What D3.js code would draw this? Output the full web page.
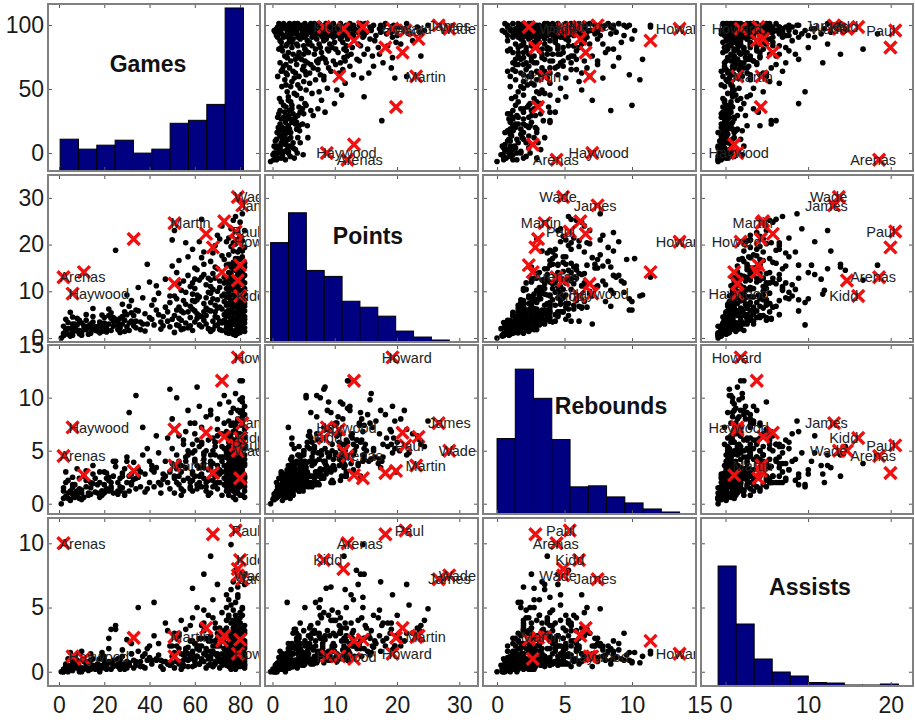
<!DOCTYPE html>
<html>
<head>
<meta charset="utf-8">
<script src="https://cdn.jsdelivr.net/npm/d3@7"></script>
<style>
  body { margin: 0; background: #fff; }
  text { font-family: "Liberation Sans", Arial, sans-serif; }
</style>
</head>
<body>
<div id="chart"></div>
<script>
var variables = ["Games", "Points", "Rebounds", "Assists"];

// tick labels on the outer axes
var xTicks = [[0, 20, 40, 60, 80], [0, 10, 20, 30], [0, 5, 10, 15], [0, 10, 20]];
var yTicks = [[0, 50, 100], [0, 10, 20, 30], [0, 5, 10, 15], [0, 5, 10]];

// histogram counts, 10 bins each, and the value range they cover
var gamesCounts = [32, 22, 26, 31, 18, 22, 48, 51, 67, 164];
var pointsCounts = [100, 130, 72, 66, 41, 35, 26, 11, 5, 2];
var reboundsCounts = [75, 144, 115, 74, 27, 28, 17, 11, 5, 2];
var assistsCounts = [240, 124, 54, 28, 20, 7, 6, 2, 2, 4];
var histRange = [[0.5, 81.5], [0, 30.2], [0, 13.8], [0, 11.2]];
var histMax = [168, 168, 168, 336];

// players: games, points, rebounds, assists
var players = [
  [2,0.5,0.5,0.0],[3,1.3,0.7,0.3],[4,0.8,1.0,0.0],[5,2.0,0.3,0.5],[6,1.2,1.5,0.2],[7,3.0,1.0,0.4],
  [8,1.5,0.8,0.7],[1,0.0,0.0,0.0],[2,2.5,1.5,0.0],[3,4.0,2.0,0.5],[4,3.3,0.5,1.0],[5,0.4,0.4,0.2],
  [6,4.5,2.5,0.3],[7,1.8,1.8,1.2],[8,2.8,1.2,0.3],[9,0.9,0.5,0.0],[3,1.8,3.0,0.6],[5,5.5,1.2,1.5],
  [8,4.2,3.3,0.9],[2,1.0,1.2,0.2],[4,2.0,2.2,0.4],[6,0.6,0.9,0.1],[7,2.4,0.6,0.6],[9,1.6,1.4,0.3],
  [6,3.0,1.8,0.8],[9,3.8,2.4,0.4],
  [10,1.2,1.0,0.3],[11,2.6,0.6,0.8],[12,3.8,2.2,0.4],[13,0.8,0.8,0.1],[14,2.0,1.5,1.4],[15,4.6,1.9,0.5],
  [16,1.6,2.4,0.2],[10,3.2,1.3,1.6],[12,5.0,3.1,0.6],[14,3.0,0.9,0.9],[16,2.4,1.1,0.3],[11,1.9,2.6,0.2],
  [15,6.3,2.8,1.0],[10,0.6,0.4,0.0],[12,1.8,1.6,0.8],[13,2.6,1.0,0.3],[14,1.0,2.0,0.2],[15,3.4,3.6,0.4],
  [17,1.5,1.0,0.3],[18,3.4,2.0,0.5],[19,2.2,0.8,1.1],[20,4.4,3.0,0.6],[21,1.3,1.4,0.2],[22,3.0,2.2,1.8],
  [23,5.4,1.6,0.7],[24,2.5,1.0,0.4],[25,4.0,3.5,3.3],[18,1.1,0.6,0.0],[20,2.6,1.8,0.9],[22,6.2,2.5,0.8],
  [24,3.6,4.0,0.5],[19,4.9,1.2,1.5],[21,2.9,2.9,0.4],[25,18.8,4.0,3.6],[23,4.2,2.0,3.3],[17,2.4,1.8,0.6],
  [19,1.4,1.2,0.3],[20,3.2,1.0,1.2],[21,2.0,2.4,0.5],[23,1.6,1.4,0.2],[24,4.4,2.6,0.9],[18,2.8,3.0,1.0],
  [22,4.8,1.2,2.6],
  [26,1.8,1.2,0.4],[27,4.2,2.4,0.7],[28,3.0,1.5,1.2],[29,5.6,3.3,0.5],[30,2.4,2.0,0.3],[31,6.8,8.6,0.6],
  [32,3.6,1.8,2.2],[33,4.8,3.9,0.9],[26,2.8,0.9,1.0],[27,1.2,1.6,0.2],[28,7.2,2.6,1.7],[29,3.8,1.0,0.6],
  [30,5.0,4.4,0.8],[31,1.6,1.2,0.5],[32,8.0,2.8,1.4],[33,2.6,2.3,0.3],[30,9.2,4.0,2.5],[34,6.0,10.2,0.8],
  [28,4.6,2.9,0.4],[26,3.4,2.0,0.6],[27,2.2,1.2,1.0],[29,1.4,0.8,0.2],[31,3.2,2.6,0.7],[32,5.4,2.0,1.4],
  [34,2.2,1.4,0.5],[35,5.8,2.5,5.0],[36,3.4,3.0,0.8],[37,8.6,4.6,1.2],[38,1.5,1.1,0.3],[39,15.8,5.2,1.8],
  [40,4.4,2.0,2.0],[41,7.0,3.6,0.9],[35,10.8,3.3,1.6],[37,3.0,7.2,0.4],[40,12.0,4.0,1.1],[34,3.6,2.4,0.7],
  [36,1.8,1.6,0.4],[38,5.2,2.8,1.4],[39,3.0,1.4,0.9],[41,4.0,3.2,0.6],
  [42,2.8,1.6,5.4],[43,6.0,3.4,1.0],[44,9.6,4.8,1.3],[45,1.9,1.0,0.4],[46,4.6,2.3,0.8],[47,12.6,2.6,3.8],
  [48,3.6,6.2,0.6],[49,7.6,3.0,2.0],[50,15.4,8.0,1.2],[43,11.2,6.4,0.9],[46,2.6,2.8,0.2],[48,5.6,2.0,3.2],
  [49,9.0,10.8,0.7],[44,5.0,2.0,2.2],[45,3.4,1.8,0.9],[47,6.6,4.0,0.8],[49,2.4,1.4,0.5],[42,8.2,3.0,2.8],
  [51,1.2,1.0,0.3],[51,4.8,2.6,1.2],[52,8.4,3.3,2.6],[52,14.0,4.6,2.0],[53,2.6,1.8,0.6],[53,6.6,6.4,0.8],
  [54,10.2,3.0,4.0],[54,3.8,1.4,1.4],[55,12.2,5.6,1.3],[55,5.4,2.2,0.5],[56,20.4,6.8,3.3],[56,7.2,4.0,1.8],
  [59,9.4,2.8,6.5],[57,2.2,2.4,0.4],[58,11.0,7.6,1.1],[58,4.4,1.6,2.4],[50,21.0,5.2,2.0],[51,23.0,7.0,3.0],
  [52,6.0,10.0,0.9],[53,16.6,4.0,2.8],[54,1.8,0.8,0.2],[55,8.0,6.0,0.9],[56,3.2,3.4,1.0],[57,13.4,8.8,1.4],
  [58,6.8,2.0,3.6],[50,4.0,3.8,0.7],[51,9.0,2.4,1.5],[53,11.6,3.6,3.0],[57,17.4,5.0,1.9],[52,2.8,2.0,0.8],
  [54,5.8,3.6,0.6],[56,9.8,4.4,1.6],[58,2.6,1.4,1.0],[57,5.6,4.6,0.9],[55,2.0,1.2,0.4],[53,4.2,2.6,1.8],
  [59,1.6,1.2,0.4],[59,6.2,3.0,1.6],[60,10.6,4.2,2.2],[60,3.4,2.6,0.5],[61,14.6,6.0,1.8],[61,8.2,1.8,5.0],
  [62,4.8,5.4,0.6],[62,12.4,3.4,2.6],[63,2.4,1.6,1.0],[63,17.2,7.2,2.0],[64,7.4,2.4,3.2],[64,5.6,4.8,0.8],
  [65,11.4,8.2,1.3],[65,3.0,2.0,0.3],[66,9.8,3.2,4.4],[64,15.8,4.6,7.6],[59,19.0,5.6,2.4],[60,7.8,6.6,1.0],
  [61,4.2,1.4,2.0],[62,20.6,9.2,1.7],[61,9.2,11.0,1.2],[64,13.6,3.8,3.8],[65,6.4,1.6,1.8],[66,2.0,0.8,0.5],
  [59,11.8,2.2,4.2],[60,15.0,7.6,2.2],[61,5.2,3.6,1.2],[63,13.0,5.8,0.9],[64,18.4,4.2,4.8],[65,8.6,5.0,2.6],
  [63,25.4,5.6,3.6],[60,5.8,4.0,0.8],[62,8.8,2.6,2.0],[64,3.8,3.4,1.4],[66,6.0,2.2,1.0],[66,12.8,6.0,2.4],
  [63,4.6,2.8,2.6],[60,12.6,5.0,1.0],[59,8.0,4.8,1.4],[62,2.8,2.0,0.6],[65,4.8,1.2,1.6],
  [67,1.4,1.0,0.6],[67,5.8,3.4,1.2],[67,11.0,4.6,2.8],[67,16.4,8.4,1.6],[68,3.6,2.2,0.4],[68,8.4,2.8,5.6],
  [68,13.8,6.2,2.0],[69,2.6,1.8,1.4],[69,7.0,5.8,0.8],[69,19.8,5.4,3.8],[70,4.4,1.4,2.6],[70,10.0,7.0,1.2],
  [70,14.8,3.6,6.8],[70,22.0,8.0,2.0],[71,1.8,2.8,0.3],[71,6.6,2.0,3.4],[71,12.2,9.4,1.0],[72,3.2,3.0,0.9],
  [72,9.0,4.0,4.6],[72,17.6,4.4,2.4],[72,24.0,6.6,3.0],[73,5.0,1.8,1.8],[73,11.8,5.2,3.2],[73,7.8,10.2,0.7],
  [74,2.2,1.2,1.0],[74,15.6,6.8,5.0],[74,20.6,4.8,6.0],[74,8.8,3.2,2.2],[67,9.6,8.8,1.0],[68,18.2,3.8,4.2],
  [69,4.6,4.6,2.0],[69,12.8,2.6,3.4],[70,6.4,6.4,1.4],[67,12.4,3.8,9.0],[71,21.2,3.0,2.8],[81,13.2,11.6,1.6],
  [73,3.8,2.4,3.0],[73,16.8,7.6,2.6],[74,10.6,2.0,4.0],[74,5.6,5.0,0.6],[67,7.6,4.0,2.4],[68,10.4,5.0,1.6],
  [69,5.6,3.0,0.6],[70,8.2,2.6,3.0],[71,3.6,4.4,0.8],[72,6.2,5.4,1.4],[73,9.4,3.6,1.2],[71,10.8,3.2,2.0],
  [68,1.8,1.6,0.4],[70,2.8,2.0,1.2],[72,1.6,0.8,0.5],[73,13.0,4.4,1.8],[69,15.2,5.8,2.4],
  [75,1.0,0.8,0.4],[75,3.4,2.0,1.0],[75,6.0,3.8,0.8],[75,8.6,2.4,4.2],[75,11.2,6.4,1.4],[75,14.0,3.2,5.6],
  [75,17.8,7.8,2.2],[75,4.8,4.6,2.8],[75,9.8,9.6,0.9],[75,21.4,5.8,4.4],[75,2.2,1.2,0.9],[75,5.2,2.8,1.6],
  [75,7.4,5.2,0.7],[75,15.8,4.2,2.6],[75,10.4,3.4,1.8],
  [76,1.8,1.4,0.2],[76,4.2,2.8,1.8],[76,7.0,1.6,3.0],[76,9.2,5.2,1.2],[76,12.6,3.6,6.4],[76,15.2,8.6,1.8],
  [76,19.6,6.2,2.6],[76,2.8,3.2,0.6],[76,23.4,4.8,5.2],[76,10.8,7.4,2.0],[76,3.4,1.8,0.6],[76,5.6,5.0,1.4],
  [76,8.0,2.0,3.8],[76,11.6,5.8,1.0],[76,13.8,6.6,3.0],
  [77,0.8,0.6,0.5],[77,3.0,1.2,2.2],[77,5.4,4.0,0.7],[77,8.0,3.0,1.6],[77,10.4,2.2,4.8],[77,13.0,9.0,1.1],
  [77,16.2,5.0,3.4],[77,6.6,6.8,1.0],[77,18.6,3.4,7.0],[77,12.0,4.4,2.4],[77,1.4,2.4,0.3],[77,4.4,2.2,3.0],
  [77,7.4,5.4,1.2],[77,9.2,3.8,2.8],[77,11.2,7.6,0.8],[77,20.4,5.6,3.8],
  [78,1.6,1.0,0.3],[78,4.0,3.6,0.9],[78,6.8,2.6,2.6],[78,9.0,7.2,1.4],[78,11.6,4.2,3.6],[78,14.6,6.0,2.2],
  [78,17.0,10.4,1.5],[78,20.2,7.0,3.0],[78,7.6,1.8,5.4],[78,26.0,5.4,4.0],[78,0.6,0.4,0.2],[78,3.4,2.8,1.8],
  [78,5.4,4.6,0.5],[78,8.4,3.2,4.4],[78,10.4,5.6,2.0],[78,12.8,3.0,2.8],[78,15.8,7.4,2.6],
  [79,2.0,2.2,0.8],[79,4.6,1.4,1.4],[79,7.2,4.8,0.6],[79,9.6,3.4,3.2],[79,12.2,8.0,1.7],[79,15.6,4.0,5.8],
  [79,18.4,6.6,2.8],[79,22.6,8.8,2.4],[79,3.6,5.6,0.4],[79,10.2,2.0,6.6],[79,1.0,1.0,0.6],[79,3.0,3.6,1.0],
  [79,6.4,1.8,2.8],[79,8.4,6.0,1.6],[79,11.0,4.8,4.0],[79,14.2,5.0,1.2],[79,17.0,4.2,3.2],
  [80,1.2,1.6,0.7],[80,3.8,0.8,2.0],[80,6.2,5.8,1.0],[80,8.8,2.4,1.8],[80,11.4,6.6,4.6],[80,13.8,3.0,2.6],
  [80,16.8,9.8,1.3],[80,19.0,4.4,3.8],[80,24.8,6.4,3.4],[80,5.0,3.4,3.8],[80,2.6,2.4,0.4],[80,5.6,2.0,1.4],
  [80,7.4,3.8,3.0],[80,10.2,8.6,0.9],[80,12.4,4.8,2.0],[80,15.4,6.0,4.2],[80,21.8,5.0,2.6],
  [81,2.4,1.8,0.5],[81,5.2,2.6,1.2],[81,7.8,8.2,0.9],[81,10.0,4.6,2.8],[81,12.8,2.8,5.0],[81,15.0,7.4,2.0],
  [81,17.4,5.2,4.4],[81,20.8,6.2,1.8],[81,26.6,7.8,4.9],[81,8.4,10.0,1.5],[81,1.6,0.8,1.6],[81,4.2,3.0,0.8],
  [81,6.6,5.2,2.2],[81,9.2,3.2,1.4],[81,14.0,5.6,3.2],[81,18.6,8.8,1.6],
  [82,1.4,1.2,1.1],[82,3.2,2.4,0.3],[82,5.8,1.6,2.4],[82,8.2,4.2,1.4],[82,10.6,3.6,3.0],[82,13.4,9.2,2.2],
  [82,16.0,5.6,3.6],[82,19.4,8.4,2.0],[82,23.0,4.6,6.8],[82,6.8,6.2,0.8],[82,4.6,3.8,1.8],[82,7.4,2.0,3.2],
  [82,11.8,6.6,1.2],[82,4.0,5.2,0.6],
  [74,3.0,2.4,1.6],[76,6.0,2.4,2.2],[78,2.8,1.6,1.2],[80,4.4,4.0,0.9],[82,9.4,7.0,1.0],[75,12.8,5.4,2.8],
  [77,14.8,3.8,4.0],[79,5.8,2.8,2.0],[81,3.4,4.2,0.6],[82,2.2,0.6,0.5],[74,1.2,1.6,0.5],[74,4.6,3.0,0.8],
  [74,7.0,4.4,1.9],[74,12.0,2.6,3.4],
  [77,25.2,6.0,3.2],[79,21.0,7.8,2.0],[81,11.8,9.6,3.0],[76,15.6,4.6,9.9],[80,13.0,11.6,1.4],[78,14.5,5.4,7.9],
  [79,13.6,6.4,6.0],[82,15.2,2.6,7.6]
];

// highlighted players (red crosses); empty name = no label
var starNames = ["Arenas", "Haywood", "Martin", "Paul", "Kidd", "Wade", "James", "Howard",
  "", "", "", "", "", "", "", "", ""];
var starStats = [
  [2, 13.0, 4.5, 10.0], [6, 9.5, 7.2, 1.2], [51, 24.6, 3.6, 2.7], [78, 22.8, 5.5, 11.0],
  [80, 9.0, 6.2, 8.7], [79, 30.2, 5.0, 7.5], [81, 28.4, 7.6, 7.2], [79, 20.6, 13.8, 1.4],
  [68, 19.4, 2.9, 10.7], [11, 14.1, 2.7, 1.0], [33, 21.2, 3.1, 2.65], [51, 11.6, 7.0, 1.2],
  [65, 22.3, 6.7, 3.4], [73, 25.0, 6.3, 2.8], [72, 14.1, 11.6, 2.4], [80, 15.6, 2.4, 2.5],
  [79, 12.3, 5.0, 8.0]
];

// panel layout
var width = 915, height = 720;
var colX = [[48, 260], [265, 478], [483, 696], [701, 913]];
var rowY = [[4, 171], [175, 342], [345, 514], [518, 686]];
var xDomain = [[-4.86, 88.8], [-1.2, 33.0], [-1.04, 14.74], [-2.97, 22.7]];
var yDomain = [[-14.1, 116.4], [-0.86, 34.9], [-0.97, 14.97], [-1.11, 11.97]];
// value -> axis units of each column / row
var xCal = [[1, 0], [0.95, -0.3], [0.98, 0], [1.95, -0.9]];
var yCal = [[1.33, -8], [1, 0], [1, 0], [1, 0]];
var titlePos = [[148, 72], [368, 244], [611, 414], [810, 595]];
var counts = [gamesCounts, pointsCounts, reboundsCounts, assistsCounts];

var svg = d3.select("#chart")
  .append("svg")
    .attr("width", width)
    .attr("height", height)
    .style("background", "#fff");

var defs = svg.append("defs");

function xScale(j) {
  return d3.scaleLinear().domain(xDomain[j]).range(colX[j]);
}
function yScale(i) {
  return d3.scaleLinear().domain(yDomain[i]).range([rowY[i][1], rowY[i][0]]);
}
function inside(ticks, dom) {
  return ticks.filter(function(t) { return t >= dom[0] && t <= dom[1]; });
}

for (var i = 0; i < 4; i++) {
  for (var j = 0; j < 4; j++) {
    var x = xScale(j), y = yScale(i);
    var cx = xCal[j], cy = yCal[i];
    var px = function(v) { return x(cx[0] * v + cx[1]); };
    var py = function(v) { return y(cy[0] * v + cy[1]); };
    var x0 = colX[j][0], x1 = colX[j][1], y0 = rowY[i][0], y1 = rowY[i][1];

    var clipId = "clip" + i + j;
    defs.append("clipPath").attr("id", clipId)
      .append("rect")
        .attr("x", x0).attr("y", y0)
        .attr("width", x1 - x0).attr("height", y1 - y0);

    var panel = svg.append("g");
    var body = panel.append("g").attr("clip-path", "url(#" + clipId + ")");

    if (i == j) {
      // histogram on the diagonal
      var r = histRange[j];
      var bw = (r[1] - r[0]) / counts[j].length;
      var yc = d3.scaleLinear().domain([0, histMax[j]]).range([y1, y0]);
      body.selectAll("rect.bar")
        .data(counts[j])
        .enter()
        .append("rect")
          .attr("x", function(d, k) { return px(r[0] + k * bw); })
          .attr("width", function(d, k) { return px(r[0] + (k + 1) * bw) - px(r[0] + k * bw); })
          .attr("y", function(d) { return yc(d); })
          .attr("height", function(d) { return y1 - yc(d); })
          .style("fill", "#000080")
          .style("stroke", "#000")
          .style("stroke-width", 1);
      panel.append("text")
        .attr("x", titlePos[j][0])
        .attr("y", titlePos[j][1])
        .attr("text-anchor", "middle")
        .style("font-size", "23px")
        .style("font-weight", "bold")
        .style("fill", "#111")
        .text(variables[j]);
    } else {
      // scatter
      body.append("g")
        .selectAll("circle")
        .data(players)
        .enter()
        .append("circle")
          .attr("cx", function(d) { return px(d[j]); })
          .attr("cy", function(d) { return py(d[i]); })
          .attr("r", 2.8)
          .style("fill", "#000");

      body.append("g")
        .selectAll("path")
        .data(starStats)
        .enter()
        .append("path")
          .attr("transform", function(d) { return "translate(" + px(d[j]) + "," + py(d[i]) + ")"; })
          .attr("d", "M-6,-6L6,6M-6,6L6,-6")
          .style("stroke", "#f01010")
          .style("stroke-width", 3.4)
          .style("fill", "none");

      body.append("g")
        .selectAll("text")
        .data(starStats.filter(function(d, k) { return starNames[k] != ""; }))
        .enter()
        .append("text")
          .attr("x", function(d) { return px(d[j] - 1.8); })
          .attr("y", function(d) { return py(d[i]); })
          .attr("dy", "0.36em")
          .style("font-size", "14.5px")
          .style("fill", "#222")
          .text(function(d, k) { return starNames[k]; });
    }

    // inward tick marks on all four sides
    var xt = inside(xTicks[j], xDomain[j]), yt = inside(yTicks[i], yDomain[i]);
    var tickStyle = function(g) {
      g.select(".domain").remove();
      g.selectAll("line").style("stroke", "#555");
    };
    panel.append("g").attr("transform", "translate(0," + y1 + ")")
      .call(d3.axisBottom(x).tickValues(xt).tickSize(-4).tickFormat("")).call(tickStyle);
    panel.append("g").attr("transform", "translate(0," + y0 + ")")
      .call(d3.axisTop(x).tickValues(xt).tickSize(-4).tickFormat("")).call(tickStyle);
    panel.append("g").attr("transform", "translate(" + x0 + ",0)")
      .call(d3.axisLeft(y).tickValues(yt).tickSize(-4).tickFormat("")).call(tickStyle);
    panel.append("g").attr("transform", "translate(" + x1 + ",0)")
      .call(d3.axisRight(y).tickValues(yt).tickSize(-4).tickFormat("")).call(tickStyle);

    panel.append("rect")
      .attr("x", x0).attr("y", y0)
      .attr("width", x1 - x0).attr("height", y1 - y0)
      .style("fill", "none")
      .style("stroke", "#808080")
      .style("stroke-width", 2);

    // outer tick labels
    var labelStyle = function(g) {
      g.select(".domain").remove();
      g.selectAll("text")
        .style("font-size", "23px")
        .style("font-family", "'Liberation Sans', Arial, sans-serif")
        .style("fill", "#1a1a1a");
    };
    if (i == 3) {
      svg.append("g").attr("transform", "translate(0," + y1 + ")")
        .call(d3.axisBottom(x).tickValues(xTicks[j]).tickSize(0).tickPadding(11)).call(labelStyle);
    }
    if (j == 0) {
      svg.append("g").attr("transform", "translate(" + x0 + ",0)")
        .call(d3.axisLeft(y).tickValues(yTicks[i]).tickSize(0).tickPadding(4)).call(labelStyle);
    }
  }
}
</script>
</body>
</html>
